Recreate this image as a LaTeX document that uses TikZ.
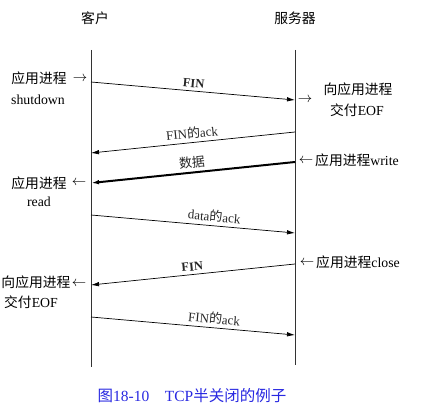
\documentclass[tikz,border=0pt]{standalone}
\usepackage{fontspec}
\setmainfont{Liberation Serif}
\newfontfamily\cjk{Noto Sans CJK SC}
\usetikzlibrary{arrows.meta}
\definecolor{capblue}{RGB}{40,40,225}
\tikzset{
  life/.style={line width=0.8pt, black!80},
  msg/.style={-{Latex[length=8pt,width=4.5pt]}, line width=0.7pt},
  lab/.style={font=\fontsize{13}{15}\selectfont, black!85, sloped, above=0pt},
  side/.style={font=\fontsize{13.8}{16}\selectfont, inner sep=0pt}
}
\begin{document}
\begin{tikzpicture}[x=1pt, y=-1pt]
  \useasboundingbox (0,0) rectangle (421,414);
  % 两端
  \node[side] (kh) at (95,18) {\cjk 客户};
  \node[side] (fwq) at (295,18) {\cjk 服务器};
  \coordinate (ctop) at (91,50);
  \coordinate (cbot) at (91,367);
  \coordinate (stop) at (295,50);
  \coordinate (sbot) at (295,365);
  \draw[life] (ctop) -- (cbot);
  \draw[life] (stop) -- (sbot);

  % 报文端点
  \coordinate (c1) at (91,82);  \coordinate (s1) at (295,100);
  \coordinate (s2) at (295,132); \coordinate (c2) at (91,153);
  \coordinate (s3) at (295,162); \coordinate (c3) at (91,183);
  \coordinate (c4) at (91,215); \coordinate (s4) at (295,233);
  \coordinate (s5) at (295,264); \coordinate (c5) at (91,285);
  \coordinate (c6) at (91,317); \coordinate (s6) at (295,335);

  % 报文
  \draw[msg] (c1) -- node[lab, pos=0.5, font=\fontsize{12.5}{14}\selectfont\bfseries] {FIN} (s1);
  \draw[msg] (s2) -- node[lab, pos=0.5] {FIN{\cjk 的}ack} (c2);
  \draw[msg, line width=2pt] (s3) -- node[lab, pos=0.5] {\cjk 数据} (c3);
  \draw[msg] (c4) -- node[lab, pos=0.6] {data{\cjk 的}ack} (s4);
  \draw[msg] (s5) -- node[lab, pos=0.5, font=\fontsize{12.5}{14}\selectfont\bfseries] {FIN} (c5);
  \draw[msg] (c6) -- node[lab, pos=0.6] {FIN{\cjk 的}ack} (s6);

  % 左侧说明
  \node[side] (shut) at (39,78) {\cjk 应用进程};
  \node[side] (shutarr) at (80,79) {$\rightarrow$};
  \node[side] (shut2) at (38,100) {shutdown};
  \node[side] (rd) at (39,183) {\cjk 应用进程};
  \node[side] (rdarr) at (79,183) {$\leftarrow$};
  \node[side] (rd2) at (39,202) {read};
  \node[side] (eofc) at (36,282) {\cjk 向应用进程};
  \node[side] (eofcarr) at (79,284) {$\leftarrow$};
  \node[side] (eofc2) at (31,302) {{\cjk 交付}EOF};

  % 右侧说明
  \node[side] (eofsarr) at (305,100) {$\rightarrow$};
  \node[side] (eofs) at (358,89) {\cjk 向应用进程};
  \node[side] (eofs2) at (357,110) {{\cjk 交付}EOF};
  \node[side] (wrarr) at (306,161) {$\leftarrow$};
  \node[side] (wr) at (357,160) {{\cjk 应用进程}write};
  \node[side] (clarr) at (307,263) {$\leftarrow$};
  \node[side] (cl) at (358,262) {{\cjk 应用进程}close};

  % 图题
  \node[font=\fontsize{15.5}{18}\selectfont, text=capblue] (cap) at (192,396)
    {{\cjk 图}18-10\hspace{1em}TCP{\cjk 半关闭的例子}};
\end{tikzpicture}
\end{document}
